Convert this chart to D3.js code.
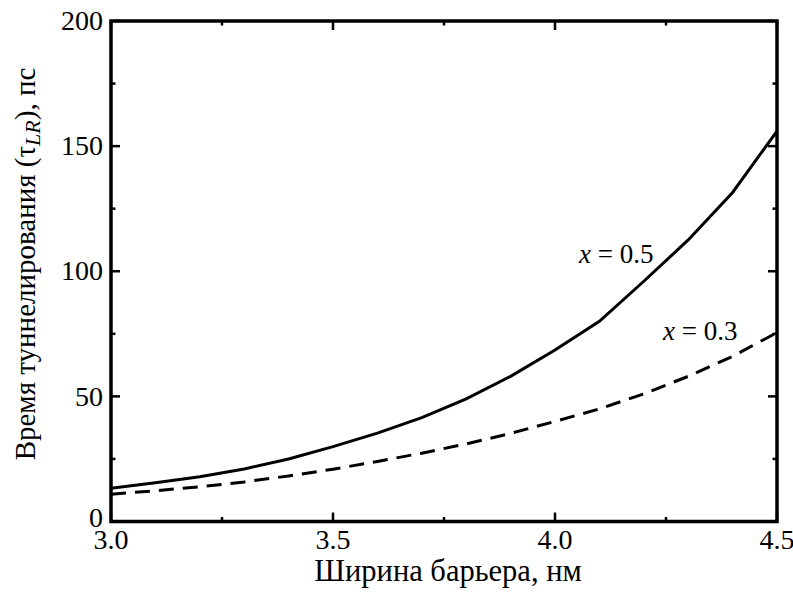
<!DOCTYPE html>
<html><head><meta charset="utf-8">
<script src="https://cdn.jsdelivr.net/npm/d3@7"></script>
<style>body{margin:0;background:#fff}svg{display:block}</style>
</head><body>
<svg id="c" width="793" height="597"></svg>
<script>
const widths = [3.0,3.1,3.2,3.3,3.4,3.5,3.6,3.7,3.8,3.9,4.0,4.1,4.2,4.3,4.4,4.5];
const tauX05 = [13.3,15.5,17.9,21,25,29.9,35.3,41.5,49,58,68.5,80,96,112.5,131.5,156];
const tauX03 = [10.9,12.3,13.9,15.8,18.2,20.9,24,27.3,31,35.2,40,45,51,58,66,75.5];
const xTicks = [3.0,3.5,4.0,4.5];
const xMinor = [3.25,3.75,4.25];
const yTicks = [0,50,100,150,200];
const yMinor = [25,75,125,175];
const curveLabels = ["0.5","0.3"];

const svg = d3.select("#c");
const L=111, R=777, T=21, B=521.5;
const x = d3.scaleLinear().domain([3,4.5]).range([L,R]);
const y = d3.scaleLinear().domain([0,200]).range([B,T]);

const g = svg.append("g");
function tickSet(vals, len, axis){
  vals.forEach(v=>{
    if(axis==="x"){
      g.append("line").attr("x1",x(v)).attr("x2",x(v)).attr("y1",B).attr("y2",B-len).attr("stroke","#000").attr("stroke-width",2.5);
      g.append("line").attr("x1",x(v)).attr("x2",x(v)).attr("y1",T).attr("y2",T+len).attr("stroke","#000").attr("stroke-width",2.5);
    } else {
      g.append("line").attr("y1",y(v)).attr("y2",y(v)).attr("x1",L).attr("x2",L+len).attr("stroke","#000").attr("stroke-width",2.5);
      g.append("line").attr("y1",y(v)).attr("y2",y(v)).attr("x1",R).attr("x2",R-len).attr("stroke","#000").attr("stroke-width",2.5);
    }
  });
}
tickSet(xTicks,9,"x"); tickSet(xMinor,4.5,"x");
tickSet(yTicks,9,"y"); tickSet(yMinor,4.5,"y");

const line = d3.line().x((d,i)=>x(widths[i])).y(d=>y(d));
g.append("path").datum(tauX05).attr("d",line).attr("fill","none").attr("stroke","#000").attr("stroke-width",3);
g.append("path").datum(tauX03).attr("d",line).attr("fill","none").attr("stroke","#000").attr("stroke-width",3).attr("stroke-dasharray","15,9");

g.append("rect").attr("x",L).attr("y",T).attr("width",R-L).attr("height",B-T).attr("fill","none").attr("stroke","#000").attr("stroke-width",3.5);

function txt(){ return svg.append("text").style("font-family",'"Liberation Serif"'); }

xTicks.forEach(v=>{
  txt().attr("x",x(v)).attr("y",549).attr("text-anchor","middle").attr("font-size",28).text(v.toFixed(1));
});
yTicks.forEach(v=>{
  txt().attr("x",103).attr("y",y(v)).attr("dy",v===0?"0.2em":"0.33em").attr("text-anchor","end").attr("font-size",28).text(v);
});

txt().attr("x",448).attr("y",581).attr("text-anchor","middle").attr("font-size",30.5).text("Ширина барьера, нм");
const yt = txt().attr("transform","translate(35,264) rotate(-90)").attr("text-anchor","middle").attr("font-size",29);
yt.append("tspan").text("Время туннелирования (τ");
yt.append("tspan").attr("font-style","italic").attr("font-size",22).attr("dy",5).text("LR");
yt.append("tspan").attr("dy",-5).text("), пс");

const labPos = [{px:579,py:263},{px:663,py:340}];
curveLabels.forEach((t,i)=>{
  const tx = txt().attr("x",labPos[i].px).attr("y",labPos[i].py).attr("font-size",27);
  tx.append("tspan").attr("font-style","italic").text("x");
  tx.append("tspan").text(" = "+t);
});
</script>
</body></html>
